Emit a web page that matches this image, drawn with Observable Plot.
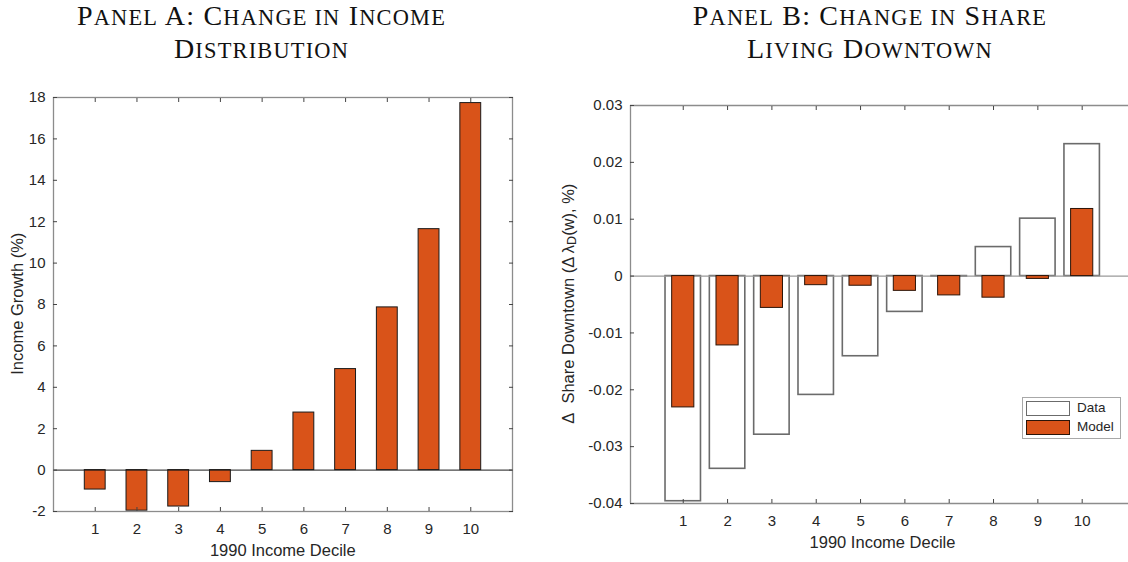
<!DOCTYPE html>
<html>
<head>
<meta charset="utf-8">
<script src="https://cdn.jsdelivr.net/npm/d3@7"></script>
<script src="https://cdn.jsdelivr.net/npm/@observablehq/plot@0.6"></script>
<style>
  html, body { margin: 0; padding: 0; background: #fff; overflow: hidden; }
  #root { position: relative; width: 1128px; height: 562px; }
  .title {
    position: absolute;
    font-family: "Liberation Serif", "DejaVu Serif", serif;
    font-size: 28px; line-height: 31px; letter-spacing: 1.2px;
    color: #111; text-align: center; white-space: nowrap;
  }
  .title .sc { font-size: 0.8em; text-transform: uppercase; }
  .panel { position: absolute; top: 0; }
  .legend {
    position: absolute; left: 1022px; top: 397px; width: 97px; height: 40px;
    border: 1px solid #a8a8a8; background: #fff;
    font-family: "Liberation Sans", Arial, sans-serif; font-size: 13.5px; color: #262626;
  }
  .legend .sw { position: absolute; left: 3px; width: 44px; height: 15px; box-sizing: border-box; }
  .legend .lab { position: absolute; left: 54px; line-height: 16px; }
</style>
</head>
<body>
<div id="root">
  <div class="title" style="left:0px;width:523px;top:0px;">P<span class="sc">anel</span> A: C<span class="sc">hange in</span> I<span class="sc">ncome</span></div>
  <div class="title" style="left:0px;width:523px;top:33px;">D<span class="sc">istribution</span></div>
  <div class="title" style="left:612px;width:516px;top:0px;">P<span class="sc">anel</span> B: C<span class="sc">hange in</span> S<span class="sc">hare</span></div>
  <div class="title" style="left:612px;width:516px;top:33px;">L<span class="sc">iving</span> D<span class="sc">owntown</span></div>
  <div id="panelA" class="panel" style="left:0px;"></div>
  <div id="panelB" class="panel" style="left:560px;"></div>
  <div class="legend">
    <div class="sw" style="top:3px;background:#fff;border:1.5px solid #6b6b6b;"></div>
    <div class="lab" style="top:2px;">Data</div>
    <div class="sw" style="top:22px;background:#D95319;border:1px solid #2b1408;"></div>
    <div class="lab" style="top:21px;">Model</div>
  </div>
</div>
<script>
// 1990 income deciles
const deciles = [1, 2, 3, 4, 5, 6, 7, 8, 9, 10];

// Panel A: income growth by decile (%)
const incomeGrowth = [-0.94, -1.96, -1.76, -0.58, 0.93, 2.78, 4.88, 7.86, 11.64, 17.73];
const incomeTicks = [-2, 0, 2, 4, 6, 8, 10, 12, 14, 16, 18];
const incomeTickLabels = ["-2", "0", "2", "4", "6", "8", "10", "12", "14", "16", "18"];
const incomeDomainX = [0, 11];
const incomeDomainY = [-2, 18];

// Panel B: change in share living downtown (%)
const shareData = [-0.0396, -0.0339, -0.0279, -0.0209, -0.0141, -0.0063, -0.0001, 0.0051, 0.0101, 0.0232];
const shareModel = [-0.0231, -0.0122, -0.0056, -0.0016, -0.0017, -0.0026, -0.0034, -0.0038, -0.0005, 0.0118];
const shareTicks = [-0.04, -0.03, -0.02, -0.01, 0, 0.01, 0.02, 0.03];
const shareTickLabels = ["-0.04", "-0.03", "-0.02", "-0.01", "0", "0.01", "0.02", "0.03"];
const shareDomainX = [-0.19, 11.045];
const shareDomainY = [-0.04, 0.03];

const orange = "#D95319";
const frameColor = "#8c8c8c";
const inkColor = "#262626";
const barHalf = 0.25;      // half width of the orange bars
const dataHalf = 0.4;      // half width of the outlined data bars
const font = "'Liberation Sans', Arial, Helvetica, sans-serif";

const incomeRows = deciles.map((d, i) => ({decile: d, growth: incomeGrowth[i]}));
const shareRows = deciles.map((d, i) => ({decile: d, data: shareData[i], model: shareModel[i]}));

function addLabel(svg, x, y, rotate, parts) {
  const t = d3.select(svg).append("text")
    .attr("transform", `translate(${x},${y}) rotate(${rotate})`)
    .attr("text-anchor", "middle")
    .attr("dominant-baseline", "central")
    .attr("fill", inkColor)
    .attr("font-family", font)
    .attr("font-size", 16.5);
  for (const p of parts) {
    const s = t.append("tspan").text(p.text);
    if (p.sub) s.attr("font-size", 12.5).attr("baseline-shift", "-30%");
  }
  return t;
}

// Panel A
const plotA = Plot.plot({
  width: 560, height: 562,
  marginLeft: 53, marginRight: 48, marginTop: 97, marginBottom: 51,
  style: {fontFamily: font, fontSize: "15px", background: "transparent", color: inkColor},
  x: {type: "linear", domain: incomeDomainX},
  y: {domain: incomeDomainY},
  marks: [
    Plot.rectY(incomeRows, {
      x1: d => d.decile - barHalf, x2: d => d.decile + barHalf,
      y1: 0, y2: "growth",
      fill: orange, stroke: "#1a1a1a", strokeWidth: 1
    }),
    Plot.ruleY([0], {stroke: "#1a1a1a", strokeWidth: 1}),
    Plot.frame({stroke: frameColor, strokeWidth: 1.3}),
    Plot.axisX(deciles, {anchor: "bottom", tickSize: -4, tickPadding: 16, stroke: "#444", fill: inkColor, label: null}),
    Plot.axisX(deciles, {anchor: "top", tickSize: -4, stroke: "#444", fill: "none", label: null}),
    Plot.axisY(incomeTicks, {anchor: "left", tickSize: -4, tickPadding: 12, stroke: "#444", fill: inkColor, label: null,
      tickFormat: v => incomeTickLabels[incomeTicks.indexOf(v)]}),
    Plot.axisY(incomeTicks, {anchor: "right", tickSize: -4, stroke: "#444", fill: "none", label: null})
  ]
});
addLabel(plotA, 17, 303.7, -90, [{text: "Income Growth (%)"}]);
addLabel(plotA, 282.8, 550, 0, [{text: "1990 Income Decile"}]);
document.getElementById("panelA").appendChild(plotA);

// Panel B
const plotB = Plot.plot({
  width: 568, height: 562,
  marginLeft: 70, marginRight: 0, marginTop: 105, marginBottom: 59,
  style: {fontFamily: font, fontSize: "15px", background: "transparent", color: inkColor},
  x: {type: "linear", domain: shareDomainX},
  y: {domain: shareDomainY},
  marks: [
    Plot.rectY(shareRows, {
      x1: d => d.decile - dataHalf, x2: d => d.decile + dataHalf,
      y1: 0, y2: "data",
      fill: "white", stroke: "#6b6b6b", strokeWidth: 1.6
    }),
    Plot.ruleY([0], {stroke: "#9a9a9a", strokeWidth: 1.2}),
    Plot.rectY(shareRows, {
      x1: d => d.decile - barHalf, x2: d => d.decile + barHalf,
      y1: 0, y2: "model",
      fill: orange, stroke: "#2b1408", strokeWidth: 1
    }),
    Plot.ruleX([shareDomainX[0]], {stroke: frameColor, strokeWidth: 1.3}),
    Plot.ruleY(shareDomainY, {stroke: frameColor, strokeWidth: 1.3}),
    Plot.axisX(deciles, {anchor: "bottom", tickSize: -4, tickPadding: 16, stroke: "#444", fill: inkColor, label: null}),
    Plot.axisX(deciles, {anchor: "top", tickSize: -4, stroke: "#444", fill: "none", label: null}),
    Plot.axisY(shareTicks, {anchor: "left", tickSize: -4, tickPadding: 12, stroke: "#444", fill: inkColor, label: null,
      tickFormat: v => shareTickLabels[shareTicks.indexOf(v)]})
  ]
});
addLabel(plotB, 8, 303.7, -90, [
  {text: "\u0394\u00a0\u00a0Share Downtown (\u0394 \u03bb"},
  {text: "D", sub: true},
  {text: "(w), %)"}
]);
addLabel(plotB, 322.5, 542, 0, [{text: "1990 Income Decile"}]);
document.getElementById("panelB").appendChild(plotB);
</script>
</body>
</html>
